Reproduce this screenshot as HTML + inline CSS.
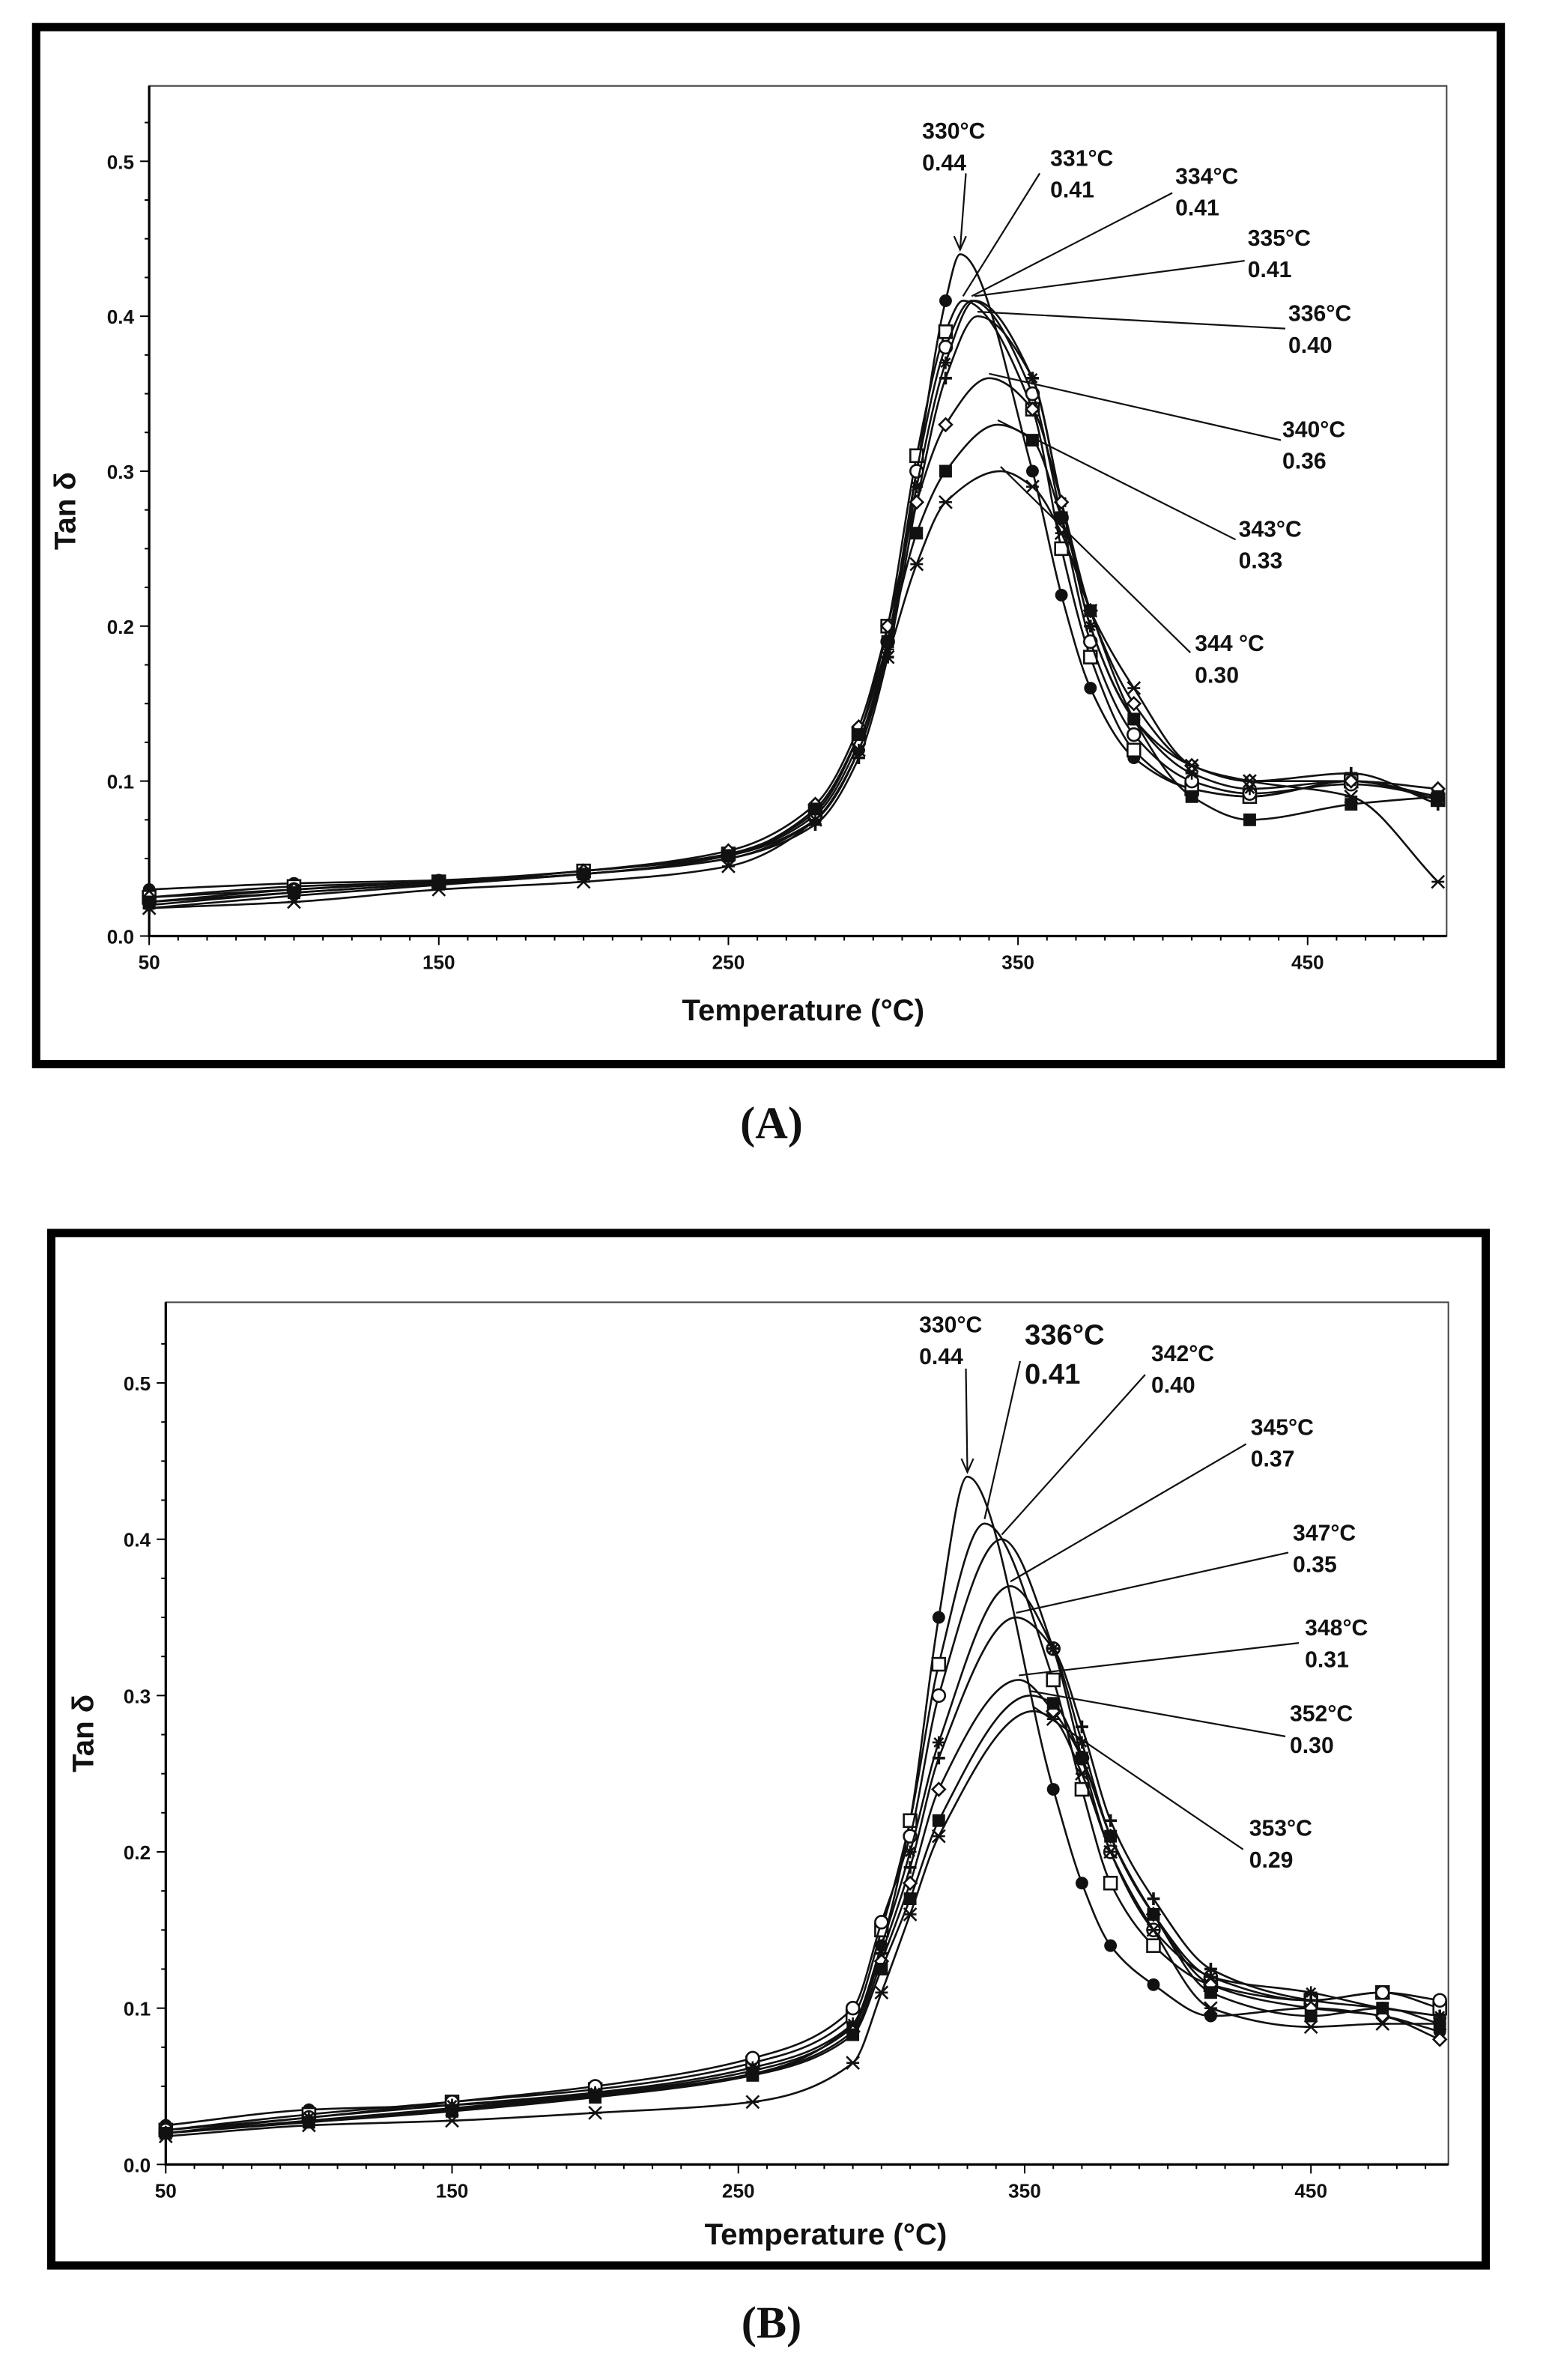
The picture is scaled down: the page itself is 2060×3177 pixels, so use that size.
<!DOCTYPE html>
<html><head><meta charset="utf-8"><style>
html,body{margin:0;padding:0;background:#fff;}
svg{display:block;}
text{font-family:"Liberation Sans",Arial,sans-serif;font-weight:bold;fill:#111;}
.ser{font-family:"Liberation Serif",serif;}
</style></head><body>
<svg id="fig" width="2060" height="3177" viewBox="0 0 1024 1579" preserveAspectRatio="none" xmlns="http://www.w3.org/2000/svg"></svg>
<script>
// ---------- Panel A data ----------
const tempsA = [50,100,150,200,250,280,295,305,315,325,null,355,365,375,390,410,430,465,495];
const peakTempsA = [330,331,334,335,336,340,343,344];
const peakValsA = [0.44,0.41,0.41,0.41,0.40,0.36,0.33,0.30];
const seriesA1 = [.03,.034,.036,.042,.052,.075,.12,.19,.30,.41,.44,.30,.22,.16,.115,.095,.09,.10,.09];
const seriesA2 = [.025,.032,.035,.042,.053,.08,.13,.20,.31,.39,.41,.34,.25,.18,.12,.095,.09,.10,.088];
const seriesA3 = [.022,.03,.035,.04,.052,.078,.125,.19,.30,.38,.41,.35,.27,.19,.13,.10,.092,.098,.09];
const seriesA4 = [.02,.028,.034,.04,.05,.075,.12,.185,.29,.37,.41,.36,.28,.20,.14,.105,.095,.10,.09];
const seriesA5 = [.018,.026,.033,.04,.05,.072,.115,.18,.28,.36,.40,.36,.28,.20,.14,.11,.10,.105,.085];
const seriesA6 = [.025,.03,.035,.042,.055,.085,.135,.20,.28,.33,.36,.34,.28,.21,.15,.11,.10,.10,.095];
const seriesA7 = [.022,.028,.034,.04,.052,.082,.13,.19,.26,.30,.33,.32,.27,.21,.14,.09,.075,.085,.09];
const seriesA8 = [.018,.022,.03,.035,.045,.075,.12,.18,.24,.28,.30,.29,.26,.21,.16,.11,.10,.09,.035];
// ---------- Panel B data ----------
const tempsB = [50,100,150,200,255,290,300,310,320,null,360,370,380,395,415,450,475,495];
const peakTempsB = [330,336,342,345,347,348,352,353];
const peakValsB = [0.44,0.41,0.40,0.37,0.35,0.31,0.30,0.29];
const seriesB1 = [.025,.035,.038,.045,.058,.09,.14,.22,.35,.44,.24,.18,.14,.115,.095,.10,.095,.085];
const seriesB2 = [.022,.032,.04,.048,.065,.095,.15,.22,.32,.41,.31,.24,.18,.14,.115,.105,.11,.10];
const seriesB3 = [.022,.03,.04,.05,.068,.10,.155,.21,.30,.40,.33,.26,.20,.15,.12,.105,.11,.105];
const seriesB4 = [.02,.03,.038,.046,.062,.09,.14,.20,.27,.37,.33,.27,.21,.16,.12,.11,.10,.095];
const seriesB5 = [.02,.028,.036,.045,.06,.088,.135,.19,.26,.35,.33,.28,.22,.17,.125,.105,.10,.095];
const seriesB6 = [.02,.028,.035,.044,.058,.085,.13,.18,.24,.31,.29,.26,.21,.16,.115,.10,.095,.08];
const seriesB7 = [.02,.027,.034,.043,.057,.083,.125,.17,.22,.30,.295,.26,.21,.16,.11,.095,.10,.09];
const seriesB8 = [.018,.025,.028,.033,.04,.065,.11,.16,.21,.29,.285,.25,.20,.15,.10,.088,.09,.09];
const xTicks = [50,150,250,350,450];
const yTicks = [0.0,0.1,0.2,0.3,0.4,0.5];

const NS="http://www.w3.org/2000/svg";
const svg=document.getElementById('fig');
function el(tag,attrs,parent){const e=document.createElementNS(NS,tag);for(const k in attrs)e.setAttribute(k,attrs[k]);(parent||svg).appendChild(e);return e;}

function monotonePath(pts){
  const n=pts.length, d=[], m=[];
  for(let k=0;k<n-1;k++)d.push((pts[k+1][1]-pts[k][1])/(pts[k+1][0]-pts[k][0]));
  m[0]=d[0]; m[n-1]=d[n-2];
  for(let k=1;k<n-1;k++){ if(d[k-1]*d[k]<=0)m[k]=0; else { const h0=pts[k][0]-pts[k-1][0],h1=pts[k+1][0]-pts[k][0];
      const w1=2*h1+h0,w2=h1+2*h0; m[k]=(w1+w2)/(w1/d[k-1]+w2/d[k]); } }
  let s=`M${pts[0][0]},${pts[0][1]}`;
  for(let k=0;k<n-1;k++){const h=(pts[k+1][0]-pts[k][0])/3;
    s+=`C${pts[k][0]+h},${pts[k][1]+m[k]*h} ${pts[k+1][0]-h},${pts[k+1][1]-m[k+1]*h} ${pts[k+1][0]},${pts[k+1][1]}`;}
  return s;
}

function panel(cfg){
  const g=el('g',{});
  
  
  const fr=el('rect',{x:cfg.frame[0],y:cfg.frame[1],width:cfg.frame[2]-cfg.frame[0],height:cfg.frame[3]-cfg.frame[1],fill:'none',stroke:'#000','stroke-width':5.5},g);
  
  
  const X=t=>cfg.x0+(t-50)*cfg.kx, Y=v=>cfg.y0-v*cfg.ky;
  const L=cfg.x0, R=X(498), T=cfg.top, B=cfg.y0;
  const box=el('path',{d:`M${L},${B}H${R}V${T}H${L}Z`,fill:'none',stroke:'#444','stroke-width':1},g);
  
  
  el('path',{d:`M${L},${T}V${B}H${R}`,fill:'none',stroke:'#000','stroke-width':1.6},g);
  for(let t=50;t<=495;t+=10){const major=(t-50)%100===0;el('line',{x1:X(t),x2:X(t),y1:B,y2:B+(major?6:3),stroke:'#000','stroke-width':1},g);}
  for(let v=0;v<=0.55;v+=0.025){const major=Math.abs(v*10-Math.round(v*10))<1e-6;el('line',{x1:L,x2:L-(major?6:3),y1:Y(v),y2:Y(v),stroke:'#000','stroke-width':1},g);}
  xTicks.forEach(t=>{const tx=el('text',{x:X(t),y:B+22,'font-size':13,'text-anchor':'middle'},g);tx.textContent=t;
    });
  yTicks.forEach(v=>{const tx=el('text',{x:L-10,y:Y(v)+5,'font-size':13,'text-anchor':'end'},g);tx.textContent=v.toFixed(1);
    });
  const yt=el('text',{x:0,y:0,'font-size':20,'text-anchor':'middle',transform:`translate(${cfg.ytx},${(T+B)/2}) rotate(-90)`},g);
  yt.textContent='Tan δ';
  
  const xt=el('text',{x:cfg.xtx,y:cfg.xty,'font-size':20,'text-anchor':'middle'},g);
  xt.textContent='Temperature (°C)';
  
  const cap=el('text',{x:512,y:cfg.capy,'font-size':30,'text-anchor':'middle','class':'ser'},g);
  cap.textContent=cfg.caption;
  
  cfg.series.forEach((vals,i)=>{
    const pts=cfg.temps.map((t,j)=>[X(t===null?cfg.peakT[i]:t),Y(vals[j])]);
    const path=el('path',{d:monotonePath(pts),fill:'none',stroke:'#111','stroke-width':1.3},g);
    
    
    pts.forEach((p,j)=>{if(cfg.temps[j]===null)return;
      const m=marker(i,p[0],p[1],g);
      
      });
  });
  cfg.ann.forEach((a,i)=>{
    const px=X(cfg.peakT[i]), py=Y(cfg.peakV[i]);
    const fs=a.big?19:15;
    const t1=el('text',{x:a.x,y:a.y,'font-size':fs},g);t1.textContent=cfg.peakT[i]+(a.sp?' ':'')+'°C';
    
    const t2=el('text',{x:a.x,y:a.y+(a.big?26:21),'font-size':fs},g);t2.textContent=cfg.peakV[i].toFixed(2);
    
    const ln=el('line',{x1:a.lx,y1:a.ly,x2:px,y2:py-3,stroke:'#111','stroke-width':1.1},g);
    
    if(a.arrow){el('path',{d:`M${px-4},${py-12}L${px},${py-3}L${px+4},${py-12}`,fill:'none',stroke:'#111','stroke-width':1.1},g);}
  });
}
function marker(i,x,y,g){
  const s=4.2;const gg=el('g',{},g);
  const st={stroke:'#111','stroke-width':1.3};
  switch(i%8){
    case 0: el('circle',{cx:x,cy:y,r:s,fill:'#111'},gg);break;
    case 1: el('rect',{x:x-s,y:y-s,width:2*s,height:2*s,fill:'#fff',...st},gg);break;
    case 2: el('circle',{cx:x,cy:y,r:s,fill:'#fff',...st},gg);break;
    case 3: el('path',{d:`M${x-s},${y}H${x+s}M${x},${y-s}V${y+s}M${x-3},${y-3}L${x+3},${y+3}M${x-3},${y+3}L${x+3},${y-3}`,fill:'none',...st},gg);break;
    case 4: el('path',{d:`M${x-s},${y}H${x+s}M${x},${y-s}V${y+s}`,fill:'none',...st,'stroke-width':1.8},gg);break;
    case 5: el('path',{d:`M${x},${y-s}L${x+s},${y}L${x},${y+s}L${x-s},${y}Z`,fill:'#fff',...st},gg);break;
    case 6: el('rect',{x:x-s,y:y-s,width:2*s,height:2*s,fill:'#111'},gg);break;
    default: el('path',{d:`M${x-s},${y-s}L${x+s},${y+s}M${x-s},${y+s}L${x+s},${y-s}M${x-s},${y}H${x+s}`,fill:'none',...st},gg);
  }
  return gg;
}
panel({name:'panel-a',caption:'(A)',capy:755,frame:[24,18,996,706],x0:99,kx:1.922,y0:621,ky:1028,top:57,
  ytx:50,xtx:533,xty:677,temps:tempsA,peakT:peakTempsA,peakV:peakValsA,
  series:[seriesA1,seriesA2,seriesA3,seriesA4,seriesA5,seriesA6,seriesA7,seriesA8],
  ann:[{x:612,y:92,lx:641,ly:115,arrow:true},{x:697,y:110,lx:690,ly:115},{x:780,y:122,lx:778,ly:128},
       {x:828,y:163,lx:826,ly:173},{x:855,y:213,lx:853,ly:218},{x:851,y:290,lx:850,ly:292},
       {x:822,y:356,lx:820,ly:358},{x:793,y:432,lx:790,ly:433,sp:true}]});
panel({name:'panel-b',caption:'(B)',capy:1551,frame:[34,818,986,1503],x0:110,kx:1.90,y0:1436,ky:1037,top:864,
  ytx:62,xtx:548,xty:1489,temps:tempsB,peakT:peakTempsB,peakV:peakValsB,
  series:[seriesB1,seriesB2,seriesB3,seriesB4,seriesB5,seriesB6,seriesB7,seriesB8],
  ann:[{x:610,y:884,lx:641,ly:908,arrow:true},{x:680,y:892,lx:677,ly:903,big:true},{x:764,y:903,lx:760,ly:912},
       {x:830,y:952,lx:827,ly:958},{x:858,y:1022,lx:855,ly:1030},{x:866,y:1085,lx:862,ly:1090},
       {x:856,y:1142,lx:853,ly:1152},{x:829,y:1218,lx:825,ly:1227}]});
</script>
</body></html>
